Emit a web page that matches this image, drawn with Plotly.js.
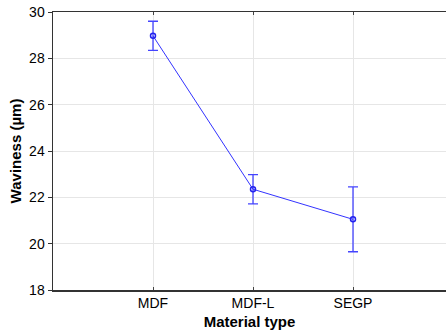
<!DOCTYPE html>
<html>
<head>
<meta charset="utf-8">
<script src="https://cdn.plot.ly/plotly-3.0.1.min.js"></script>
<style>html,body{margin:0;padding:0;background:#fff;}</style>
</head>
<body>
<div id="chart" style="width:446px;height:335px;"></div>
<script>
const categories = ["MDF", "MDF-L", "SEGP"];
const means = [28.97, 22.35, 21.05];
const errPlus = [0.63, 0.63, 1.40];
const errMinus = [0.63, 0.63, 1.40];
const yTicks = [18, 20, 22, 24, 26, 28, 30];

const xpos = categories.map((c, i) => i);

const trace = {
  x: xpos,
  y: means,
  type: 'scatter',
  mode: 'lines+markers',
  line: {color: '#3333ff', width: 1},
  marker: {symbol: 'circle-open', size: 5, color: '#2222ee', line: {width: 1.5}},
  error_y: {type: 'data', array: errPlus, arrayminus: errMinus, symmetric: false,
            color: '#4444ff', thickness: 1.3, width: 5},
  hoverinfo: 'none'
};

const layout = {
  width: 446, height: 335,
  margin: {l: 53, r: 0, t: 12, b: 45},
  paper_bgcolor: '#fff', plot_bgcolor: '#fff',
  font: {family: 'Liberation Sans, Arial, sans-serif', color: '#000'},
  showlegend: false,
  xaxis: {
    range: [-1, 2.93],
    tickvals: xpos, ticktext: categories,
    ticks: 'inside', ticklen: 3, tickcolor: '#444',
    showline: true, linecolor: '#333', linewidth: 1.5, mirror: 'ticks',
    showgrid: true, gridcolor: '#e6e6e6', gridwidth: 1,
    zeroline: false,
    tickfont: {size: 14},
    title: {text: '<b>Material type</b>', font: {size: 15}, standoff: 6}
  },
  yaxis: {
    range: [18, 30],
    tickvals: yTicks,
    ticks: 'outside', ticklen: 4, tickcolor: '#333',
    showline: true, linecolor: '#333', linewidth: 1.5,
    showgrid: true, gridcolor: '#e6e6e6', gridwidth: 1,
    zeroline: false,
    tickfont: {size: 14},
    title: {text: '<b>Waviness (µm)</b>', font: {size: 15}, standoff: 4}
  }
};

Plotly.newPlot('chart', [trace], layout, {staticPlot: true, displayModeBar: false});
</script>
</body>
</html>
